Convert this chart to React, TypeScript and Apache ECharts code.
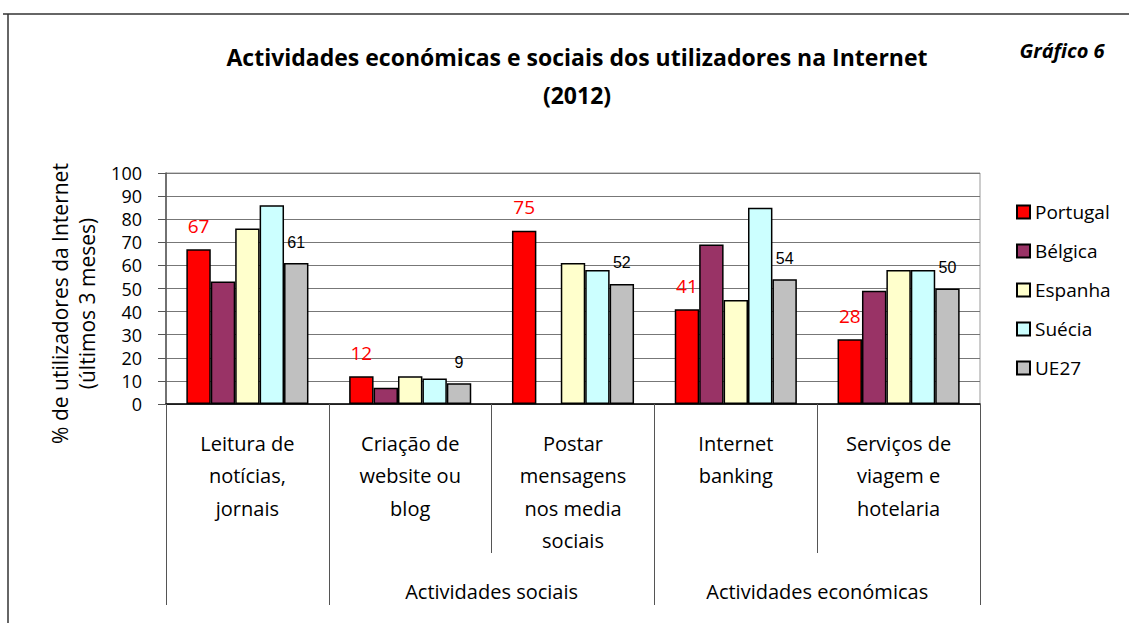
import React, { useEffect, useRef } from "react";
import * as echarts from "echarts";

const categories = [
  "Leitura de\nnotícias,\njornais",
  "Criação de\nwebsite ou\nblog",
  "Postar\nmensagens\nnos media\nsociais",
  "Internet\nbanking",
  "Serviços de\nviagem e\nhotelaria",
];
const groupLabels = ["", "", "Actividades sociais", "", "Actividades económicas", ""];
const groupTickAt = [0, 1, 3, 5];
const seriesNames = ["Portugal", "Bélgica", "Espanha", "Suécia", "UE27"];
const portugal = [67, 12, 75, 41, 28];
const belgica = [53, 7, null, 69, 49];
const espanha = [76, 12, 61, 45, 58];
const suecia = [86, 11, 58, 85, 58];
const ue27 = [61, 9, 52, 54, 50];
const colors = ["#FF0000", "#993366", "#FFFFCC", "#CCFFFF", "#C0C0C0"];
const yTicks = { min: 0, max: 100, interval: 10 };

const FONT = "'Open Sans', 'Noto Sans', sans-serif";

export default function App() {
  const ref = useRef<HTMLDivElement>(null);
  useEffect(() => {
    if (!ref.current) return;
    const chart = echarts.init(ref.current, null, { renderer: "svg" });
    const values = [portugal, belgica, espanha, suecia, ue27];
    const series = values.map((data, i) => ({
      name: seriesNames[i],
      type: "bar",
      xAxisIndex: 0,
      data,
      barGap: "0%",
      barCategoryGap: "25%",
      itemStyle: { color: colors[i], borderColor: "#000", borderWidth: 1.5 },
      label:
        i === 0
          ? { show: true, position: "top", distance: 14, color: "#FF0000", fontSize: 19, fontFamily: FONT }
          : i === 4
          ? { show: true, position: "top", distance: 13, color: "#000", fontSize: 16, fontFamily: "'Liberation Sans', Arial, sans-serif" }
          : { show: false },
    }));
    chart.setOption({
      animation: false,
      backgroundColor: "#fff",
      title: [
        {
          text: "Actividades económicas e sociais dos utilizadores na Internet\n(2012)",
          left: 572,
          top: 33,
          textAlign: "center",
          textStyle: { fontFamily: FONT, fontSize: 23, fontWeight: "bold", color: "#000", lineHeight: 38 },
        },
        {
          text: "Gráfico 6",
          left: 1057,
          top: 35,
          textAlign: "center",
          textStyle: { fontFamily: FONT, fontSize: 20, fontWeight: "bold", fontStyle: "italic", color: "#000" },
        },
      ],
      legend: {
        orient: "vertical",
        left: 1011,
        top: 197,
        itemWidth: 13,
        itemHeight: 13,
        itemGap: 19,
        icon: "rect",
        data: seriesNames,
        textStyle: { fontFamily: FONT, fontSize: 19, color: "#000", lineHeight: 20, padding: [0, 0, 0, 0] },
      },
      grid: {
        left: 166,
        right: 149,
        top: 173,
        bottom: 219,
        show: true,
        borderColor: "#999",
        borderWidth: 1,
      },
      xAxis: [
        {
          type: "category",
          data: categories,
          position: "bottom",
          axisLine: { show: true, lineStyle: { color: "#000", width: 1.5 } },
          axisTick: { show: true, interval: 0, length: 149, lineStyle: { color: "#555" } },
          axisLabel: {
            interval: 0,
            margin: 23,
            fontFamily: FONT,
            fontSize: 20,
            lineHeight: 32.5,
            color: "#000",
          },
        },
        {
          type: "category",
          data: groupLabels,
          position: "bottom",
          boundaryGap: false,
          axisLine: { show: false },
          axisTick: {
            show: true,
            interval: (idx: number) => groupTickAt.indexOf(idx) >= 0,
            length: 201,
            lineStyle: { color: "#555" },
          },
          axisLabel: {
            interval: 0,
            margin: 176,
            fontFamily: FONT,
            fontSize: 20,
            lineHeight: 22,
            color: "#000",
          },
          splitLine: { show: false },
        },
      ],
      yAxis: {
        type: "value",
        min: yTicks.min,
        max: yTicks.max,
        interval: yTicks.interval,
        name: "% de utilizadores da Internet\n(últimos 3 meses)",
        nameLocation: "middle",
        nameRotate: 90,
        nameGap: 63,
        nameTextStyle: { fontFamily: FONT, fontSize: 21, lineHeight: 27, color: "#000", padding: [0, 30, 0, 0] },
        axisLine: { show: true, lineStyle: { color: "#555", width: 1.5 } },
        axisTick: { show: true, length: 8, lineStyle: { color: "#555" } },
        axisLabel: { margin: 24, fontFamily: FONT, fontSize: 18, lineHeight: 20, color: "#000" },
        splitLine: { show: true, lineStyle: { color: "#777", width: 1 } },
      },
      graphic: [
        { type: "line", shape: { x1: 3, y1: 14, x2: 1129, y2: 14 }, style: { stroke: "#333", lineWidth: 1.5 } },
        { type: "line", shape: { x1: 8, y1: 14, x2: 8, y2: 623 }, style: { stroke: "#333", lineWidth: 1.5 } },
      ],
      series,
    });
    return () => chart.dispose();
  }, []);
  return (
    <div
      ref={ref}
      style={{ position: "absolute", left: 0, top: 0, width: 1129, height: 623, background: "#fff" }}
    />
  );
}
